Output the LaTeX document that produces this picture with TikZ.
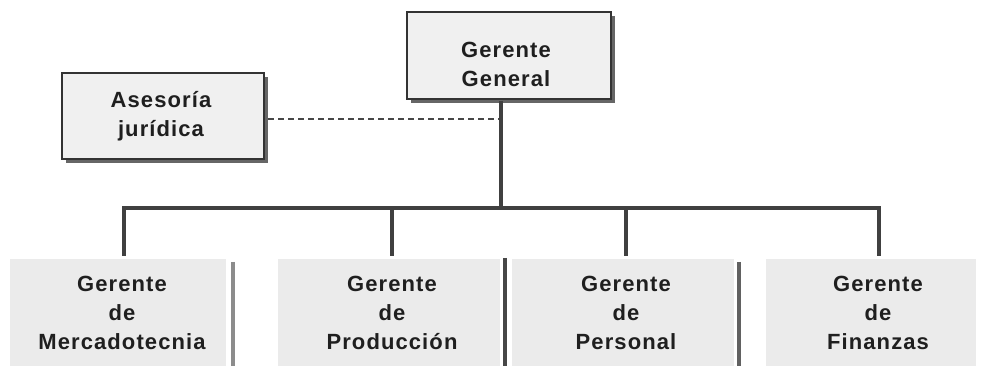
\documentclass[tikz,border=0pt]{standalone}
\usepackage{fontspec}
\newfontfamily\chartfont[LetterSpace=5]{Liberation Sans}
\begin{document}
\begin{tikzpicture}[x=0.75pt,y=-0.75pt,
  link/.style={draw=black!75,line width=2.3pt},
  dotlink/.style={draw=black!72,line width=1.9pt,dash pattern=on 4.5pt off 3pt},
  topbox/.style={draw=black!80,line width=2pt,fill=black!6},
  shade/.style={fill=black!60},
  lowbox/.style={fill=black!8},
  sidebar/.style={draw=black!72,line width=2.4pt},
  label/.style={font=\chartfont\bfseries\fontsize{16.5}{21.8}\selectfont,text=black!88,align=center,inner sep=0pt}
]
\useasboundingbox (0,0) rectangle (982,366);
\fill[white] (0,0) rectangle (982,366);

% top boxes with drop shadow
\fill[shade] (411,16) rectangle (615,103);
\draw[topbox] (407,12) rectangle (611,99);
\node[label] (gg) at (506,64) {Gerente\\General};
\coordinate (ggb) at (501,101);

\fill[shade] (66,77) rectangle (268,163);
\draw[topbox] (62,73) rectangle (264,159);
\node[label] (aj) at (161,116) {Asesoría\\jurídica};
\coordinate (ajr) at (268,119);
\coordinate (ggm) at (501,119);

% lower boxes
\fill[lowbox] (10,259) rectangle (226,366);
\fill[lowbox] (278,259) rectangle (500,366);
\fill[lowbox] (512,259) rectangle (734,366);
\fill[lowbox] (766,259) rectangle (976,366);
\draw[sidebar,draw=black!45] (233,262) -- (233,366);
\draw[sidebar] (505,258) -- (505,366);
\draw[sidebar,draw=black!62] (739,262) -- (739,366);

\node[label] (m) at (122,313) {Gerente\\de\\Mercadotecnia};
\node[label] (p) at (392,313) {Gerente\\de\\Producción};
\node[label] (r) at (626,313) {Gerente\\de\\Personal};
\node[label] (f) at (878,313) {Gerente\\de\\Finanzas};

% connectors
\coordinate (hub) at (501,208);
\coordinate (ml) at (124,208);
\coordinate (pl) at (392,208);
\coordinate (rl) at (626,208);
\coordinate (fl) at (879,208);
\coordinate (mt) at (124,256);
\coordinate (pt) at (392,256);
\coordinate (rt) at (626,256);
\coordinate (ft) at (879,256);

\draw[dotlink] (ajr) -- (ggm);
\draw[link] (ggb) -- (hub);
\draw[link,line cap=rect] (ml) -- (fl);
\draw[link] (ml) -- (mt);
\draw[link] (pl) -- (pt);
\draw[link] (rl) -- (rt);
\draw[link] (fl) -- (ft);
\end{tikzpicture}
\end{document}
